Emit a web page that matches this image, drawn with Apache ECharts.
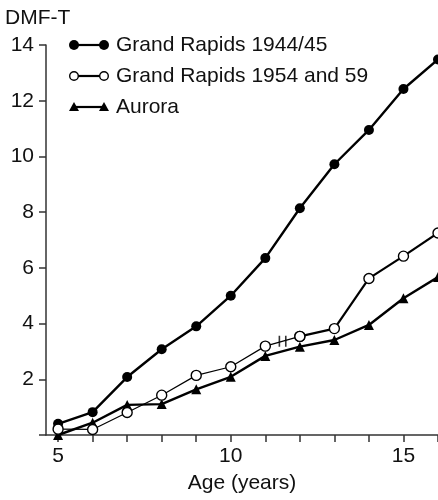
<!DOCTYPE html>
<html>
<head>
<meta charset="utf-8">
<script src="https://cdn.jsdelivr.net/npm/echarts@6/dist/echarts.min.js"></script>
<style>html,body{margin:0;padding:0;background:#fff}#c{width:438px;height:500px}</style>
</head>
<body>
<div id="c"></div>
<script>
var ages = [5, 6, 7, 8, 9, 10, 11, 12, 13, 14, 15, 16];
var grandRapids4445 = [0.4, 0.82, 2.08, 3.08, 3.9, 5.0, 6.35, 8.14, 9.72, 10.95, 12.42, 13.48];
var grandRapids5459 = [0.21, 0.2, 0.81, 1.43, 2.14, 2.45, 3.19, 3.54, 3.82, 5.62, 6.42, 7.25];
var aurora = [0.0, 0.44, 1.08, 1.11, 1.64, 2.09, 2.84, 3.17, 3.41, 3.95, 4.91, 5.67];
var seriesNames = ['Grand Rapids 1944/45', 'Grand Rapids 1954 and 59', 'Aurora'];
var xTickValues = [5, 6, 7, 8, 9, 10, 11, 12, 13, 14, 15, 16];
var xLabelValues = [5, 10, 15];
var breakAfterIndex = 6; // break between 1954 and 1959 cohorts (age 11 -> 12)

function pairs(vals, from, to) {
  return ages.map(function (a, i) {
    return (i >= from && i <= to) ? [a, vals[i]] : [a, null];
  });
}
var bi = breakAfterIndex;
var breakPoint = [(ages[bi] + ages[bi + 1]) / 2, (grandRapids5459[bi] + grandRapids5459[bi + 1]) / 2];

var FONT = '"Liberation Sans", Arial, Helvetica, sans-serif';
var TXT = '#111';
var chart = echarts.init(document.getElementById('c'), null, {renderer: 'canvas'});

function legendRow(y, kind, label) {
  var els = [{
    type: 'line', shape: {x1: 74, y1: y, x2: 104, y2: y},
    style: {stroke: '#000', lineWidth: 2.2}
  }];
  [74, 104].forEach(function (x) {
    if (kind === 'filled') {
      els.push({type: 'circle', shape: {cx: x, cy: y, r: 5}, style: {fill: '#000'}});
    } else if (kind === 'open') {
      els.push({type: 'circle', shape: {cx: x, cy: y, r: 4.3}, style: {fill: '#fff', stroke: '#000', lineWidth: 1.4}});
    } else {
      els.push({type: 'polygon', shape: {points: [[x, y - 5], [x - 5, y + 4], [x + 5, y + 4]]}, style: {fill: '#000'}});
    }
  });
  els.push({
    type: 'text', x: 116, y: y,
    style: {text: label, font: '21px ' + FONT, fill: TXT, textVerticalAlign: 'middle', textAlign: 'left'}
  });
  return els;
}

var graphics = []
  .concat(legendRow(45, 'filled', seriesNames[0]))
  .concat(legendRow(76, 'open', seriesNames[1]))
  .concat(legendRow(107, 'tri', seriesNames[2]));

var option = {
  animation: false,
  backgroundColor: '#fff',
  grid: {left: 46, right: 0, top: 45, bottom: 65, containLabel: false},
  xAxis: {
    type: 'value', min: 4.65, max: 16,
    name: 'Age (years)', nameLocation: 'middle', nameGap: 38,
    nameTextStyle: {fontSize: 21, fontFamily: FONT, color: TXT},
    axisLine: {show: true, lineStyle: {color: '#333', width: 1.5}},
    axisTick: {show: true, inside: false, length: 7, customValues: xTickValues, lineStyle: {color: '#333', width: 1.5}},
    axisLabel: {customValues: xLabelValues, fontSize: 21, fontFamily: FONT, color: TXT, margin: 11},
    splitLine: {show: false}
  },
  yAxis: {
    type: 'value', min: 0, max: 14, interval: 2,
    axisLine: {show: true, lineStyle: {color: '#333', width: 1.5}},
    axisTick: {show: true, inside: false, length: 7, lineStyle: {color: '#333', width: 1.5}},
    axisLabel: {fontSize: 21, fontFamily: FONT, color: TXT, margin: 12,
      formatter: function (v) { return v === 0 ? '' : String(v); }},
    splitLine: {show: false}
  },
  graphic: [{
    type: 'text', left: 5, top: 8,
    style: {text: 'DMF-T', font: '21px ' + FONT, fill: TXT}
  }].concat(graphics),
  series: [
    {
      name: seriesNames[0], type: 'line', data: pairs(grandRapids4445, 0, 11),
      symbol: 'circle', symbolSize: 10, clip: false,
      lineStyle: {color: '#000', width: 2.4}, itemStyle: {color: '#000'}, z: 3
    },
    {
      name: seriesNames[1], type: 'line', data: pairs(grandRapids5459, 0, bi + 1),
      symbol: 'circle', symbolSize: 10, clip: false,
      lineStyle: {color: '#000', width: 1.2}, itemStyle: {color: '#fff', borderColor: '#000', borderWidth: 1.4}, z: 4
    },
    {
      name: seriesNames[1], type: 'line', data: pairs(grandRapids5459, bi + 1, 11),
      symbol: 'circle', symbolSize: 10, clip: false,
      lineStyle: {color: '#000', width: 2.2}, itemStyle: {color: '#fff', borderColor: '#000', borderWidth: 1.4}, z: 4
    },
    {
      name: seriesNames[2], type: 'line', data: pairs(aurora, 0, 11),
      symbol: 'triangle', symbolSize: 10, clip: false,
      lineStyle: {color: '#000', width: 2.4}, itemStyle: {color: '#000'}, z: 3
    },
    {
      name: 'break', type: 'scatter', data: [breakPoint],
      symbol: 'path://M0,0L1.4,0L1.4,10L0,10ZM5.6,0L7,0L7,10L5.6,10Z',
      symbolSize: [8, 11], itemStyle: {color: '#000'}, z: 5, silent: true
    }
  ]
};
chart.setOption(option);
</script>
</body>
</html>
